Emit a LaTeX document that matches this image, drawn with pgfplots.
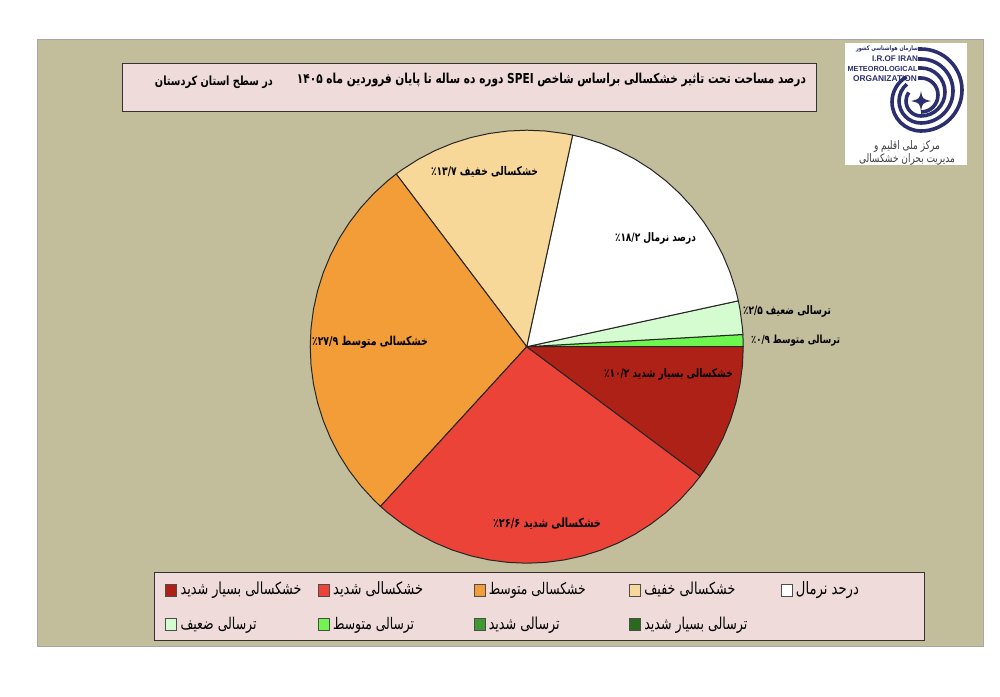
\documentclass[border=0pt]{standalone}
\usepackage{pgfplots}
\pgfplotsset{compat=1.18}
\usepackage{fontspec}
\usepackage{graphicx}
\TeXXeTstate=1
\setmainfont{Liberation Sans}
\newfontfamily\fa[Script=Arabic]{DejaVu Sans}
\newcommand\T[2]{\scalebox{1}[1.3]{\resizebox{#1pt}{!}{\fa #2}}}
\newcommand\B[2]{\scalebox{1}[1.3]{\resizebox{#1pt}{!}{\fa\bfseries #2}}}
\definecolor{panel}{RGB}{194,189,155}
\definecolor{boxc}{RGB}{239,220,218}
\definecolor{extd}{RGB}{173,33,22}
\definecolor{sevd}{RGB}{236,67,57}
\definecolor{modd}{RGB}{242,157,56}
\definecolor{ligd}{RGB}{247,216,152}
\definecolor{weakw}{RGB}{213,251,208}
\definecolor{modw}{RGB}{111,245,80}
\definecolor{sevw}{RGB}{63,154,51}
\definecolor{extw}{RGB}{42,106,30}
\definecolor{navy}{RGB}{43,47,110}
\begin{document}
\begin{tikzpicture}
\path[use as bounding box] (0pt,0pt) rectangle (1000pt,-696pt);
\begin{scope}[x=1pt,y=-1pt]
\fill[white] (0,0) rectangle (1000,696);
\filldraw[fill=panel,draw=black!35,line width=.8pt] (37,39) rectangle (983,646);
\filldraw[fill=boxc,draw=black!80,line width=.9pt] (122,63) rectangle (816,111);
\node[inner sep=0pt] at (551.5,79.5) {\B{509}{\beginR درصد مساحت تحت تاثیر خشکسالی براساس شاخص \beginL SPEI\endL{} دوره ده ساله تا پایان فروردین ماه \beginL ۱۴۰۵\endL{}\endR}};
\node[inner sep=0pt] at (214,82.5) {\B{118}{\beginR در سطح استان کردستان\endR}};
% logo
\fill[white] (845,43) rectangle (967,165);
\begin{scope}[draw=navy,line width=3.6pt]
\draw (918,49) -- (921,49) arc[start angle=-90,end angle=90,radius=41] arc[start angle=90,end angle=240,radius=29];
\draw (918,59) -- (921,59) arc[start angle=-90,end angle=90,radius=32] arc[start angle=90,end angle=230,radius=22];
\draw (918,68) -- (921,68) arc[start angle=-90,end angle=90,radius=24] arc[start angle=90,end angle=215,radius=15];
\draw (918,78) -- (921,78) arc[start angle=-90,end angle=90,radius=17];
\end{scope}
\fill[navy] (921,91) .. controls (922.5,99) and (922.5,99) .. (931,101) .. controls (922.5,103) and (922.5,103) .. (921,111) .. controls (919.5,103) and (919.5,103) .. (911,101) .. controls (919.5,99) and (919.5,99) .. (921,91);
\node[inner sep=0pt,text=navy] at (887,49) {\B{62}{\beginR سازمان هواشناسی کشور\endR}};
\node[inner sep=0pt,text=navy] at (895,58.5) {\resizebox{46pt}{!}{\bfseries I.R.OF IRAN}};
\node[inner sep=0pt,text=navy] at (882.5,68.5) {\resizebox{70pt}{!}{\bfseries METEOROLOGICAL}};
\node[inner sep=0pt,text=navy] at (885,78.5) {\resizebox{64pt}{!}{\bfseries ORGANIZATION}};
\node[inner sep=0pt,text=black!75] at (907,146) {\T{66}{\beginR مرکز ملی اقلیم و\endR}};
\node[inner sep=0pt,text=black!75] at (907,159) {\T{96}{\beginR مدیریت بحران خشکسالی\endR}};
\end{scope}
\begin{axis}[
  at={(0pt,0pt)},anchor=north west,
  scale only axis,width=1000pt,height=696pt,
  xmin=-526.7,xmax=473.3,ymin=-349.3,ymax=346.7,
  axis lines=none,clip=false,
  legend columns=5,
  legend cell align=left,
  legend image code/.code={\draw[#1,draw=black!70,line width=.6pt] (0pt,-1.5pt) rectangle (11pt,10.5pt);},
  legend style={
    at={(154pt,-572pt+696pt)},anchor=north west,
    fill=boxc,draw=black!80,line width=.9pt,
    inner xsep=11pt,inner ysep=9pt,
    nodes={inner sep=0pt,anchor=base west},
    /tikz/row sep=20.5pt,
    /tikz/column sep=0pt,
  },
]
% share of area (%): extreme 10.2, severe 26.6, moderate 27.9, light 13.7, normal 18.2, weak wet 2.5, moderate wet 0.9
\addplot[forget plot,fill=modw,draw=black!85,line width=1pt,data cs=polar] coordinates {(0,0) (0,216.5) (3.24,216.5)} -- cycle;
\addplot[forget plot,fill=weakw,draw=black!85,line width=1pt,data cs=polar] coordinates {(0,0) (3.24,216.5) (5,216.5) (10,216.5) (12.24,216.5)} -- cycle;
\addplot[forget plot,fill=white,draw=black!85,line width=1pt,data cs=polar] coordinates {(0,0) (12.24,216.5) (15,216.5) (20,216.5) (25,216.5) (30,216.5) (35,216.5) (40,216.5) (45,216.5) (50,216.5) (55,216.5) (60,216.5) (65,216.5) (70,216.5) (75,216.5) (77.76,216.5)} -- cycle;
\addplot[forget plot,fill=ligd,draw=black!85,line width=1pt,data cs=polar] coordinates {(0,0) (77.76,216.5) (80,216.5) (85,216.5) (90,216.5) (95,216.5) (100,216.5) (105,216.5) (110,216.5) (115,216.5) (120,216.5) (125,216.5) (127.08,216.5)} -- cycle;
\addplot[forget plot,fill=modd,draw=black!85,line width=1pt,data cs=polar] coordinates {(0,0) (127.08,216.5) (130,216.5) (135,216.5) (140,216.5) (145,216.5) (150,216.5) (155,216.5) (160,216.5) (165,216.5) (170,216.5) (175,216.5) (180,216.5) (185,216.5) (190,216.5) (195,216.5) (200,216.5) (205,216.5) (210,216.5) (215,216.5) (220,216.5) (225,216.5) (227.52,216.5)} -- cycle;
\addplot[forget plot,fill=sevd,draw=black!85,line width=1pt,data cs=polar] coordinates {(0,0) (227.52,216.5) (230,216.5) (235,216.5) (240,216.5) (245,216.5) (250,216.5) (255,216.5) (260,216.5) (265,216.5) (270,216.5) (275,216.5) (280,216.5) (285,216.5) (290,216.5) (295,216.5) (300,216.5) (305,216.5) (310,216.5) (315,216.5) (320,216.5) (323.28,216.5)} -- cycle;
\addplot[forget plot,fill=extd,draw=black!85,line width=1pt,data cs=polar] coordinates {(0,0) (323.28,216.5) (325,216.5) (330,216.5) (335,216.5) (340,216.5) (345,216.5) (350,216.5) (355,216.5) (360,216.5)} -- cycle;
\addlegendimage{fill=extd}\addlegendentry{\makebox[141pt][l]{\hspace*{3.5pt}\T{121}{\beginR خشکسالی بسیار شدید\endR}}}
\addlegendimage{fill=sevd}\addlegendentry{\makebox[144pt][l]{\hspace*{3.5pt}\T{90}{\beginR خشکسالی شدید\endR}}}
\addlegendimage{fill=modd}\addlegendentry{\makebox[144pt][l]{\hspace*{3.5pt}\T{97}{\beginR خشکسالی متوسط\endR}}}
\addlegendimage{fill=ligd}\addlegendentry{\makebox[140pt][l]{\hspace*{3.5pt}\T{91}{\beginR خشکسالی خفیف\endR}}}
\addlegendimage{fill=white}\addlegendentry{\makebox[121pt][l]{\hspace*{3.5pt}\T{63}{\beginR درحد نرمال\endR}}}
\addlegendimage{fill=weakw}\addlegendentry{\makebox[141pt][l]{\hspace*{3.5pt}\T{76}{\beginR ترسالی ضعیف\endR}}}
\addlegendimage{fill=modw}\addlegendentry{\makebox[144pt][l]{\hspace*{3.5pt}\T{81}{\beginR ترسالی متوسط\endR}}}
\addlegendimage{fill=sevw}\addlegendentry{\makebox[144pt][l]{\hspace*{3.5pt}\T{71}{\beginR ترسالی شدید\endR}}}
\addlegendimage{fill=extw}\addlegendentry{\makebox[140pt][l]{\hspace*{3.5pt}\T{103}{\beginR ترسالی بسیار شدید\endR}}}
\end{axis}
\begin{scope}[x=1pt,y=-1pt]
\node[inner sep=0pt] at (484.5,172) {\B{107}{\beginR خشکسالی خفیف \beginL ۱۳/۷\endL{}٪\endR}};
\node[inner sep=0pt] at (655.5,238) {\B{81}{\beginR درصد نرمال \beginL ۱۸/۲\endL{}٪\endR}};
\node[inner sep=0pt] at (787,311) {\B{88}{\beginR ترسالی ضعیف \beginL ۲/۵\endL{}٪\endR}};
\node[inner sep=0pt] at (795.5,341) {\B{89}{\beginR ترسالی متوسط \beginL ۰/۹\endL{}٪\endR}};
\node[inner sep=0pt] at (370,342) {\B{116}{\beginR خشکسالی متوسط \beginL ۲۷/۹\endL{}٪\endR}};
\node[inner sep=0pt] at (668.5,374) {\B{129}{\beginR خشکسالی بسیار شدید \beginL ۱۰/۲\endL{}٪\endR}};
\node[inner sep=0pt] at (547,524) {\B{108}{\beginR خشکسالی شدید \beginL ۲۶/۶\endL{}٪\endR}};
\end{scope}
\end{tikzpicture}
\end{document}
